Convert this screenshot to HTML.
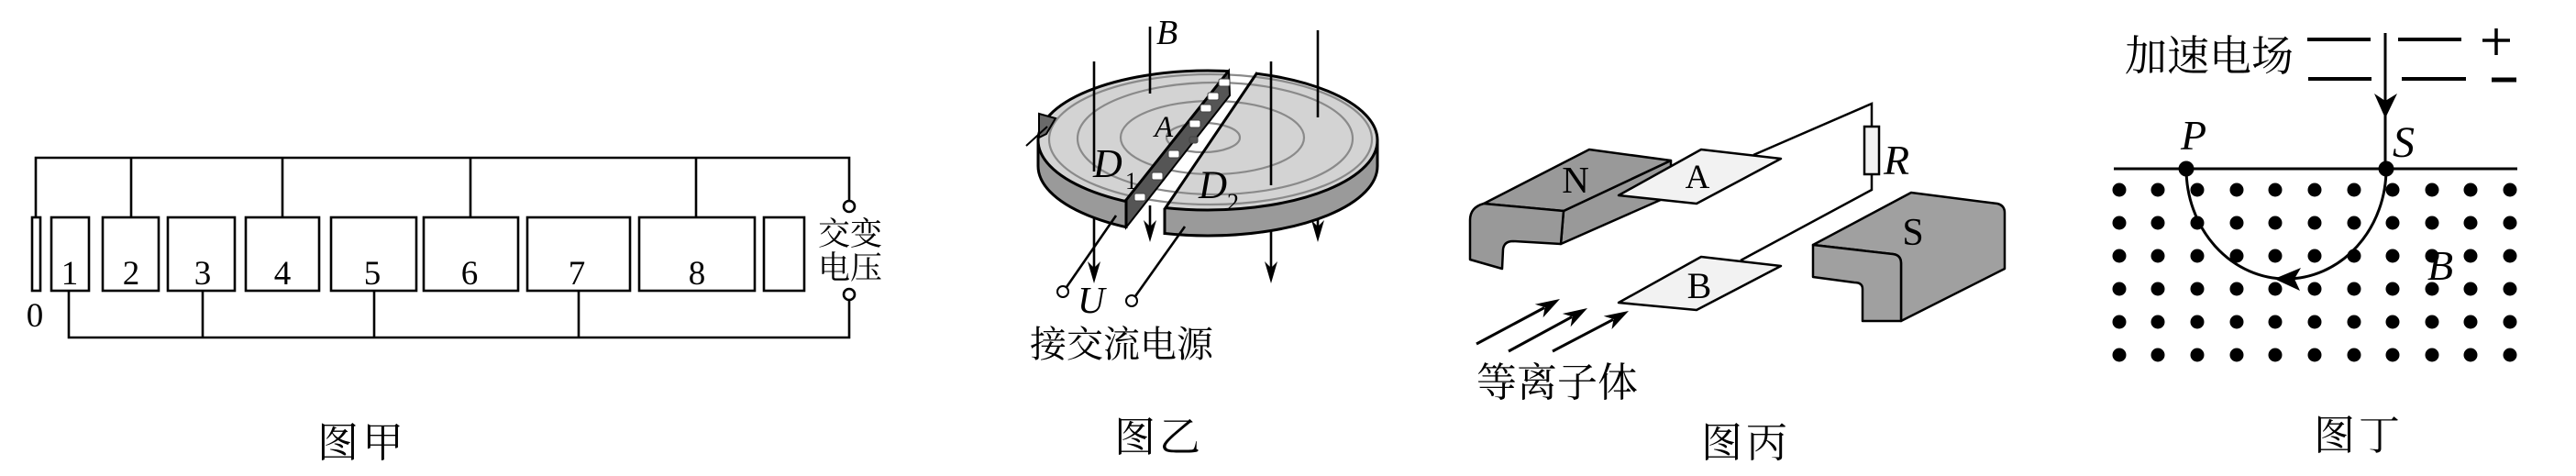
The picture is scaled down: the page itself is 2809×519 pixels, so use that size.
<!DOCTYPE html>
<html><head><meta charset="utf-8"><style>
html,body{margin:0;padding:0;background:#fff;}
svg{display:block;}
.lat{font-family:"Liberation Serif",serif;}
.cjk{font-family:"Liberation Serif","Noto Serif CJK SC",serif;}
</style></head><body>
<svg width="2809" height="519" viewBox="0 0 2809 519" xmlns="http://www.w3.org/2000/svg">
<rect width="2809" height="519" fill="#fff"/>
<defs>
<clipPath id="d1c"><polygon points="1000,0 1401.6,0 1228,217 1228,300 1000,300"/></clipPath>
<clipPath id="d2c"><polygon points="1424.6,0 1600,0 1600,300 1270,300 1270,228"/></clipPath>
<clipPath id="topc"><ellipse cx="1317" cy="153" rx="184" ry="75"/></clipPath>
</defs>

<!-- ===== 图甲 ===== -->
<g stroke="#000" stroke-width="2.6" fill="none">
<polyline points="39,237 39,172 926,172 926,219"/>
<line x1="143" y1="172" x2="143" y2="237"/>
<line x1="308" y1="172" x2="308" y2="237"/>
<line x1="513" y1="172" x2="513" y2="237"/>
<line x1="759" y1="172" x2="759" y2="237"/>
<polyline points="75,317 75,368 926,368 926,327"/>
<line x1="221" y1="317" x2="221" y2="368"/>
<line x1="408" y1="317" x2="408" y2="368"/>
<line x1="631" y1="317" x2="631" y2="368"/>
<rect x="35" y="237" width="9" height="80"/>
<rect x="56" y="237" width="41" height="80"/>
<rect x="112" y="237" width="61" height="80"/>
<rect x="183" y="237" width="73" height="80"/>
<rect x="268" y="237" width="80" height="80"/>
<rect x="361" y="237" width="93" height="80"/>
<rect x="462" y="237" width="103" height="80"/>
<rect x="575" y="237" width="112" height="80"/>
<rect x="697" y="237" width="126" height="80"/>
<rect x="833" y="237" width="44" height="80"/>
<circle cx="926" cy="225" r="6" fill="#fff"/>
<circle cx="926" cy="321" r="6" fill="#fff"/>
</g>
<g class="lat" font-size="37" text-anchor="middle" fill="#000">
<text x="76" y="310">1</text><text x="143" y="310">2</text><text x="221" y="310">3</text>
<text x="308" y="310">4</text><text x="406" y="310">5</text><text x="512" y="310">6</text>
<text x="629" y="310">7</text><text x="760" y="310">8</text>
<text x="38" y="356">0</text>
</g>
<g class="cjk" font-size="35" fill="#000">
<text x="892" y="267">交变</text>
<text x="892" y="304">电压</text>
</g>

<!-- ===== 图乙 ===== -->
<g clip-path="url(#d2c)">
<path d="M1132,153 L1132,181 A185,76 0 0 0 1502,181 L1502,153 Z" fill="#9a9a9a" stroke="#000" stroke-width="3"/>
<ellipse cx="1317" cy="153" rx="185" ry="76" fill="#d3d3d3" stroke="#000" stroke-width="3"/>
</g>
<g clip-path="url(#d1c)">
<path d="M1132,153 L1132,181 A185,76 0 0 0 1502,181 L1502,153 Z" fill="#9a9a9a" stroke="#000" stroke-width="3"/>
<ellipse cx="1317" cy="153" rx="185" ry="76" fill="#d3d3d3" stroke="#000" stroke-width="3"/>
</g>
<g clip-path="url(#topc)" fill="none" stroke="#8a8a8a" stroke-width="2.2">
<ellipse cx="1312" cy="150" rx="40" ry="16"/>
<ellipse cx="1322" cy="150" rx="100" ry="40"/>
<ellipse cx="1325" cy="151" rx="150" ry="61"/>
<ellipse cx="1320" cy="152" rx="176" ry="71"/>
</g>
<polygon points="1340,77 1341,104 1228,248 1228,218" fill="#555" stroke="#000" stroke-width="2"/>
<g stroke="#000" stroke-width="3" fill="none">
<line x1="1340" y1="77" x2="1228" y2="218"/>
<line x1="1228" y1="217" x2="1228" y2="249"/>
<line x1="1371" y1="79" x2="1270" y2="228"/>
<line x1="1270" y1="227" x2="1270" y2="256"/>
</g>
<g fill="#fff" stroke="#444" stroke-width="1">
<rect x="1329" y="86" width="12" height="8" rx="2"/>
<rect x="1317" y="101" width="12" height="8" rx="2"/>
<rect x="1309" y="114" width="12" height="8" rx="2"/>
<rect x="1297" y="131" width="12" height="8" rx="2"/>
<rect x="1297" y="149" width="9" height="7" rx="2" fill="#555"/>
<rect x="1274" y="164" width="12" height="8" rx="2"/>
<rect x="1256" y="188" width="12" height="8" rx="2"/>
<rect x="1237" y="211" width="12" height="8" rx="2"/>
</g>
<polygon points="1133,124 1151,129 1141,146 1133,150" fill="#6a6a6a" stroke="#000" stroke-width="2"/>
<line x1="1119" y1="159" x2="1142" y2="138" stroke="#000" stroke-width="2"/>
<g stroke="#000" stroke-width="2.6">
<line x1="1254" y1="29" x2="1254" y2="102"/>
<line x1="1193" y1="67" x2="1193" y2="187"/>
<line x1="1386" y1="67" x2="1386" y2="202"/>
<line x1="1437" y1="33" x2="1437" y2="128"/>
<line x1="1193" y1="238" x2="1193" y2="294"/>
<line x1="1254" y1="224" x2="1254" y2="250"/>
<line x1="1386" y1="252" x2="1386" y2="294"/>
<line x1="1437" y1="238" x2="1437" y2="250"/>
<line x1="1217" y1="235" x2="1163" y2="313"/>
<line x1="1292" y1="247" x2="1238" y2="323"/>
</g>
<g fill="#000">
<polygon points="1193,309 1186,285 1193,292 1200,285"/>
<polygon points="1254,264 1247,240 1254,247 1261,240"/>
<polygon points="1386,309 1379,285 1386,292 1393,285"/>
<polygon points="1437,264 1430,240 1437,247 1444,240"/>
</g>
<circle cx="1159" cy="318" r="6" fill="#fff" stroke="#000" stroke-width="2"/>
<circle cx="1234" cy="328" r="6" fill="#fff" stroke="#000" stroke-width="2"/>
<g class="lat" font-style="italic" fill="#000">
<text x="1261" y="48" font-size="38">B</text>
<text x="1259" y="149" font-size="33">A</text>
<text x="1192" y="193" font-size="44">D</text>
<text x="1227" y="206" font-size="26" font-style="normal">1</text>
<text x="1307" y="216" font-size="43">D</text>
<text x="1338" y="229" font-size="26" font-style="normal">2</text>
<text x="1175" y="341" font-size="41">U</text>
</g>
<text class="cjk" x="1123" y="389" font-size="40">接交流电源</text>

<!-- ===== 图丙 ===== -->
<g fill="#999" stroke="#000" stroke-width="2.5" stroke-linejoin="round">
<polygon points="1705,230 1822,175 1822,213 1702,266"/>
<polygon points="1618,222 1733,163 1822,175 1705,230"/>
<path d="M1618,222 Q1603,226 1603,240 L1603,283 L1638,293 L1639,272 Q1640,263 1650,263 L1702,266 L1705,230 Z"/>
<path d="M1977,267 L2084,210 L2178,222 Q2186,224 2186,232 L2186,293 L2073,350 L2073,287 Q2073,278 2064,277 Z" fill="#a0a0a0"/>
<path d="M1977,267 L2064,277 Q2073,278 2073,287 L2073,350 L2031,350 L2031,315 Q2031,308 2022,308 L1977,302 Z" fill="#a0a0a0"/>
</g>
<g fill="#f2f2f2" stroke="#000" stroke-width="2.5" stroke-linejoin="round">
<polygon points="1765,213 1855,163 1942,173 1850,222"/>
<polygon points="1765,330 1855,280 1942,290 1850,338"/>
</g>
<g stroke="#000" stroke-width="2.5" fill="none">
<polyline points="1912,169 2041,113 2041,138"/>
<polyline points="2041,190 2041,207 1898,284"/>
<rect x="2033" y="138" width="16" height="52" fill="#f2f2f2"/>
</g>
<g stroke="#000" stroke-width="3" fill="none">
<line x1="1610" y1="375" x2="1684" y2="335.5"/>
<line x1="1645" y1="383" x2="1714" y2="345.6"/>
<line x1="1693" y1="383" x2="1759" y2="348.4"/>
</g>
<g fill="#000">
<polygon points="1701,326 1682.6,346.2 1684.6,335 1673.8,331.8"/>
<polygon points="1731,336 1712.6,356.4 1714.6,345.2 1703.8,342"/>
<polygon points="1776,339 1757.5,359 1759.5,348 1748.7,344.6"/>
</g>
<g class="lat" fill="#000" text-anchor="middle">
<text x="1718" y="210" font-size="41">N</text>
<text x="1851" y="205" font-size="37">A</text>
<text x="1853" y="325" font-size="40">B</text>
<text x="2086" y="267" font-size="42">S</text>
</g>
<text class="lat" x="2054" y="190" font-size="46" font-style="italic">R</text>
<text class="cjk" x="1610" y="432" font-size="44">等离子体</text>

<!-- ===== 图丁 ===== -->
<text class="cjk" x="2317" y="77" font-size="46">加速电场</text>
<g stroke="#000" stroke-width="4">
<line x1="2516" y1="43" x2="2585" y2="43"/>
<line x1="2615" y1="43" x2="2684" y2="43"/>
<line x1="2517" y1="86" x2="2586" y2="86"/>
<line x1="2619" y1="86" x2="2689" y2="86"/>
<line x1="2707" y1="44" x2="2737" y2="44" stroke-width="3.5"/>
<line x1="2722" y1="31" x2="2722" y2="60" stroke-width="3.5"/>
<line x1="2717" y1="87" x2="2744" y2="87" stroke-width="5"/>
<line x1="2601" y1="36" x2="2601" y2="184" stroke-width="3"/>
<line x1="2305" y1="184" x2="2745" y2="184" stroke-width="3"/>
</g>
<polygon points="2601,129 2589,102 2601,110 2614,102" fill="#000"/>
<g fill="#000">
<circle cx="2384" cy="184" r="8.5"/>
<circle cx="2602" cy="184" r="8.5"/>
</g>
<g fill="#000">
<g id="row">
<circle cx="2311" cy="207" r="7.5"/><circle cx="2353" cy="207" r="7.5"/><circle cx="2396" cy="207" r="7.5"/>
<circle cx="2439" cy="207" r="7.5"/><circle cx="2481" cy="207" r="7.5"/><circle cx="2524" cy="207" r="7.5"/>
<circle cx="2567" cy="207" r="7.5"/><circle cx="2609" cy="207" r="7.5"/><circle cx="2652" cy="207" r="7.5"/>
<circle cx="2694" cy="207" r="7.5"/><circle cx="2737" cy="207" r="7.5"/>
</g>
<use href="#row" y="36"/>
<use href="#row" y="72"/>
<use href="#row" y="108"/>
<use href="#row" y="144"/>
<use href="#row" y="180"/>
</g>
<path d="M2602,184 A109,120 0 0 1 2384,184" fill="none" stroke="#000" stroke-width="3"/>
<polygon points="2480,304 2509,292 2502,304 2508,317" fill="#000"/>
<g class="lat" font-style="italic" fill="#000">
<text x="2378" y="163" font-size="46">P</text>
<text x="2609" y="171" font-size="48">S</text>
<text x="2647" y="305" font-size="46">B</text>
</g>

<!-- ===== captions ===== -->
<g class="cjk" font-size="45" fill="#000" letter-spacing="4">
<text x="346" y="498">图甲</text>
<text x="1215" y="492">图乙</text>
<text x="1855" y="498">图丙</text>
<text x="2523" y="490">图丁</text>
</g>
</svg>
</body></html>
